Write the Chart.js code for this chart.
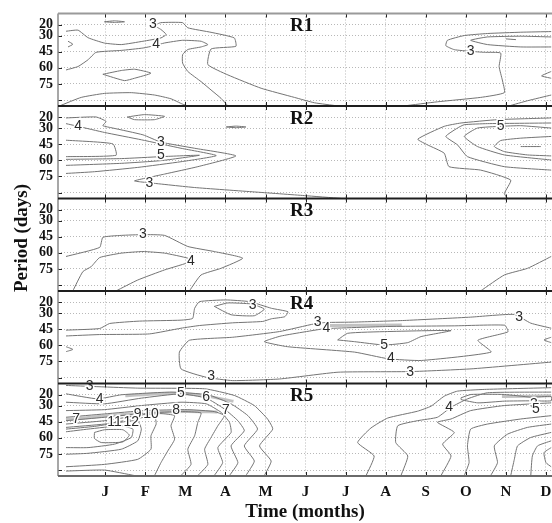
<!DOCTYPE html>
<html>
<head>
<meta charset="utf-8">
<script src="https://cdn.jsdelivr.net/npm/chart.js@4.4.1/dist/chart.umd.min.js"></script>
<style>
  html, body { margin: 0; padding: 0; background: #fff; overflow: hidden; }
</style>
</head>
<body>
<canvas id="chart" width="552" height="523" style="width:552px;height:523px;display:block"></canvas>
<script>
// axis ticks
const monthTicks = [1, 2, 3, 4, 5, 6, 7, 8, 9, 10, 11, 12];
const monthLetters = ['J', 'F', 'M', 'A', 'M', 'J', 'J', 'A', 'S', 'O', 'N', 'D'];
const periodTicks = [20, 30, 45, 60, 75, 90];
const periodLabels = ['20', '30', '45', '60', '75', ''];
const panelNames = ['R1', 'R2', 'R3', 'R4', 'R5'];

// contour lines, points are [month, period in days]
const r1Lines = [
  [[0.02,26],[0.32,25],[0.57,32],[0.98,37],[1.40,38.4],[1.94,35.3],[2.39,32.2],[2.52,29],[2.39,24.4],[2.23,20.6],[2.39,18],[2.93,18],[3.06,22.8],[3.64,27],[4.22,32.2],[4.26,40],[3.64,42.5],[3.56,57],[4.06,66.6],[4.89,79],[5.72,87.5],[6.22,92.5],[6.80,95.4]],
  [[0.02,62],[0.32,58.8],[0.57,52.5],[0.77,45.6],[1.40,43.8],[1.94,41.6],[2.23,39.4],[2.48,36.9],[2.93,34.4],[3.39,35.3],[3.56,38.4],[3.39,40.6],[3.06,43],[2.93,47.8],[2.93,55.6],[3.06,63.4],[3.39,72.8],[3.64,80.6],[3.89,88.4],[4.06,95.4]],
  [[0.98,17.2],[1.23,16.3],[1.48,17.2],[1.23,17.8],[0.98,17.2]],
  [[0.07,35.3],[0.19,38.1],[0.07,40.6]],
  [[0.94,66],[1.40,62.5],[1.73,61.3],[2.14,65],[1.73,69.7],[1.48,71.9],[0.94,66]],
  [[-0.14,95.4],[0.40,87.5],[0.98,83.8],[1.65,83.1],[2.23,85.3],[2.64,88.8],[2.93,93.8],[3.06,95.4]],
  [[8.46,95.4],[9.29,91.6],[10.37,87.5],[10.96,83.1],[10.91,71.3],[10.83,58.8],[10.87,46.3],[10.46,45.6],[10.12,44.7],[9.71,43.1],[9.50,39.4],[9.54,34.4],[9.96,30],[10.54,28.1],[11.37,26.9],[12.13,26.3]],
  [[12.13,31.3],[11.37,30.6],[10.54,31.3],[10.12,34.4],[10.54,38.4],[11.37,40.6],[12.13,40.6]],
  [[11.0,33.1],[11.25,33.8]],
  [[11.08,95.4],[11.54,90.6],[12.13,85.3]],
  [[12.13,63.4],[11.89,67.5],[12.13,69.7]]
];
const r1Labels = [[2.19,19.7,'3'],[2.27,38.4,'4'],[10.12,44.7,'3']];

const r2Lines = [
  [[0.02,20.6],[0.77,19.7],[1.02,23.8],[0.94,27.8],[1.19,30],[1.94,36.3],[2.39,43.1],[3.23,48.8],[4.26,55.9],[3.31,65.9],[2.48,72.8],[1.73,79.1],[2.10,80.9],[3.23,85.3],[4.72,89.4],[5.97,92.8],[6.88,95.4]],
  [[0.02,25.9],[0.32,28.4],[0.98,34.1],[1.90,40.9],[2.89,48.8],[3.77,55.6],[2.89,61.3],[1.81,66.6],[0.73,70.6],[0.02,72.2]],
  [[0.02,41.3],[1.19,44.7],[1.27,55.3],[0.02,56.6]],
  [[0.02,59.1],[1.40,58.4],[2.39,56.6],[3.35,55.3],[2.39,60.3],[1.40,62.8],[0.02,64.7]],
  [[1.55,19.7],[1.98,17.5],[2.48,19.1],[2.23,22.2],[1.73,22.2],[1.55,19.7]],
  [[4.02,29],[4.26,28.2],[4.51,29],[4.26,29.7],[4.02,29]],
  [[12.13,20.6],[10.79,22.2],[9.88,25.3],[9.46,28.4],[8.80,40.3],[9.04,45.6],[9.46,53.4],[9.58,65.9],[10.37,69.1],[11.12,78.4],[10.96,90.9],[11.04,95.4]],
  [[12.13,25.3],[10.54,25.9],[9.96,26.9],[9.79,30],[9.50,37.8],[9.79,45.6],[10.04,56.6],[10.96,65.9],[12.13,69.1]],
  [[12.13,30],[11.37,27.8],[10.87,28.4],[10.29,30],[9.96,37.8],[10.29,47.2],[10.96,55],[12.13,59.7]],
  [[12.13,37.8],[11.37,39.4],[10.87,41.6],[10.71,47.2],[10.96,51.9],[11.54,55],[12.13,55.9]],
  [[11.37,47.2],[11.87,47.2]]
];
const r2Labels = [[0.32,28.4,'4'],[2.39,43.1,'3'],[2.39,55.3,'5'],[2.10,80.9,'3'],[10.87,28.4,'5']];

const r3Lines = [
  [[0.02,63.4],[0.86,55],[0.94,45.6],[1.40,43.8],[1.94,43.1],[2.48,43.8],[3.06,54.1],[3.72,58.8],[4.43,65],[3.89,74.4],[3.39,80.6],[3.10,95.4]],
  [[0.19,95.4],[0.44,77.5],[0.65,72.8],[0.86,64.4],[1.40,60.3],[1.94,58.8],[2.48,60.3],[3.06,65],[3.14,68.1],[2.48,75.9],[1.81,85.3],[1.27,95.4]],
  [[10.37,95.4],[10.96,80.6],[11.54,74.4],[12.13,63.4]]
];
const r3Labels = [[1.94,43.1,'3'],[3.14,68.1,'4']];

const r4Lines = [
  [[0.02,45.9],[0.86,44.4],[1.11,39.7],[1.85,37.5],[2.89,36.6],[3.18,35],[3.23,25.6],[3.35,19.4],[4.01,17.8],[4.60,19.4],[5.15,25.6],[5.56,28.8],[5.48,33.4],[5.15,35.3],[4.93,37.8],[4.18,39.1],[3.35,41.6],[2.89,44.1],[2.10,49.4],[0.86,50],[0.02,51.3]],
  [[12.13,75.6],[10.13,81.9],[8.64,84.4],[6.81,85],[5.35,91.3],[4.18,92.8],[3.52,89.7],[2.89,81.9],[2.85,66.3],[3.10,55.3],[4.18,52.5],[5.35,47.2],[6.22,40],[6.50,38.8],[7.22,38.4],[8.46,36.9],[10.12,33.8],[11.21,31.3],[11.62,39.4],[12.13,44.1]],
  [[3.72,23.8],[4.06,20.6],[4.64,21.6],[4.97,26.3],[4.72,32.5],[4.14,31.6],[3.72,23.8]],
  [[6.48,44.4],[8.05,42.5],[9.71,41.9],[10.97,41.3],[11.05,47.5],[10.30,55.3],[10.63,66.3],[8.89,74.1],[8.06,72.5],[7.22,66.3],[5.55,61.3],[4.97,56.6],[5.39,51.3],[6.48,44.4]],
  [[6.80,55],[7.05,48.8],[8.05,47.2],[9.63,46.3],[8.88,51.9],[8.55,57.5],[7.96,59.7],[7.22,56.6],[6.80,55]],
  [[0.02,61.3],[0.19,63.8],[0.02,65.9]],
  [[12.13,52.5],[11.95,55],[12.13,57.5]]
];
const r4Labels = [[4.68,22.2,'3'],[6.30,38.6,'3'],[6.52,44.2,'4'],[7.96,59.7,'5'],[8.13,72.2,'4'],[3.64,88.8,'3'],[8.61,84.7,'3'],[11.33,33.8,'3']];

const r5Lines = [
  [[0.02,11.3],[1.81,13.8],[3.48,14.4],[4.22,20.6],[4.72,30],[5.05,42.5],[5.18,51.9],[4.85,67.5],[5.14,81.6],[4.97,95.1]],
  [[0.02,19.1],[0.81,23.8],[1.40,20],[2.64,17.5],[3.56,20],[4.14,28.4],[4.56,39.4],[4.80,51.9],[4.47,67.5],[4.72,81.6],[4.51,95.1]],
  [[0.02,26.9],[0.98,28.4],[1.90,23.1],[2.89,19.1],[3.52,23.1],[3.97,33.1],[4.31,44.1],[4.47,53.4],[4.14,67.5],[4.31,83.1],[4.10,95.1]],
  [[0.02,34.7],[0.98,33.8],[1.90,30],[2.89,26.9],[3.52,28.4],[3.89,36.3],[4.10,45.6],[4.14,55],[3.81,69.1],[3.93,83.1],[3.72,95.1]],
  [[0.02,40.9],[0.98,37.8],[1.98,34.7],[3.06,33.8],[3.72,35.6],[3.97,39.4],[3.81,48.8],[3.64,59.7],[3.48,70.6],[3.56,84.7],[3.31,95.1]],
  [[0.02,44.1],[0.98,40.9],[2.06,36.9],[2.89,35.6],[3.39,36.9],[3.31,45.6],[3.23,58.1],[3.06,70.6],[3.14,84.7],[2.89,95.1]],
  [[0.02,47.2],[0.98,44.1],[1.90,38.8],[2.39,37.5],[2.73,39.4],[2.64,48.8],[2.73,61.3],[2.56,72.2],[2.39,83.1],[2.23,95.1]],
  [[0.02,50.3],[0.98,47.2],[1.81,41.9],[2.23,40],[2.27,47.2],[2.14,58.1],[2.14,70.6],[1.81,80],[0.98,84.7],[0.02,86.9]],
  [[0.02,51.9],[0.73,49.4],[1.48,45],[1.81,44.1],[1.90,51.9],[1.81,62.8],[1.40,70.6],[0.57,74.4],[0.02,75.3]],
  [[0.02,54.4],[0.57,51.9],[1.40,48.8],[1.69,51.9],[1.65,59.7],[1.23,65.9],[0.57,69.1],[0.02,69.1]],
  [[0.73,55],[0.98,52.5],[1.44,52.5],[1.60,57.5],[1.44,63.8],[0.90,64.4],[0.73,60.6],[0.73,55]],
  [[0.02,90.9],[0.98,90],[1.73,95.1]],
  [[12.13,13.4],[10.46,15],[9.79,16.6],[9.46,21.3],[9.13,30.6],[8.79,35.3],[8.05,41.6],[7.63,50.9],[7.30,64.4],[7.71,76.9],[7.51,95.1]],
  [[12.13,17.5],[10.54,18.1],[10.04,23.8],[9.63,31.6],[9.29,40.9],[8.79,44.1],[8.30,48.8],[8.25,64.4],[8.55,76.9],[8.38,95.1]],
  [[12.13,27.5],[10.96,30],[10.12,34.7],[9.63,42.5],[9.29,45.6],[9.71,55],[9.42,65.9],[9.63,76.9],[9.38,95.1]],
  [[12.13,39.4],[11.37,42.5],[10.54,47.2],[10.12,51.9],[10.04,67.5],[10.08,83.1],[9.96,95.1]],
  [[12.13,47.2],[11.54,50.3],[11.04,56.6],[10.71,67.5],[10.79,83.1],[10.62,95.1]],
  [[12.13,55],[11.62,59.7],[11.29,67.5],[11.21,80],[11.12,95.1]],
  [[12.13,62.8],[11.79,67.5],[11.66,76.9],[11.62,95.1]],
  [[12.13,69.1],[11.95,73.8],[12.0,83.1],[12.13,86.9]],
  [[9.88,22.8],[10.13,19.7],[10.96,19.7],[11.63,22.2],[12.13,21.6],[12.13,25.6],[11.63,25.6],[10.96,25.9],[10.30,27.5],[9.88,24.4],[9.88,22.8]]
];
const r5Labels = [[0.61,11.9,'3'],[0.86,24.4,'4'],[2.89,18.1,'5'],[3.52,22.2,'6'],[4.01,34.7,'7'],[2.77,34.7,'8'],[1.81,37.8,'9'],[2.14,37.8,'10'],[1.23,45,'11'],[1.65,45.6,'12'],[0.27,42.5,'7'],[9.58,31.6,'4'],[11.70,28.4,'3'],[11.75,33.8,'5']];

// wide grey bands where contours crowd together
const r4Bands = [[[6.6,41.5],[8.4,41]]];
const r5Bands = [
  [[0.02,43],[0.9,40],[2.0,37],[3.0,35.5],[3.8,36]],
  [[1.5,21],[2.7,18.5],[3.5,21],[4.2,26]],
  [[10.9,21.5],[12.13,21]]
];

const panelLines = [r1Lines, r2Lines, r3Lines, r4Lines, r5Lines];
const panelLabels = [r1Labels, r2Labels, r3Labels, r4Labels, r5Labels];
const panelBands = [[], [], [], r4Bands, r5Bands];

const serif = '"Liberation Serif", "Times New Roman", serif';

const datasets = [];
panelLines.forEach((lines, i) => {
  lines.forEach(pts => {
    datasets.push({
      data: pts.map(([x, y]) => ({ x, y })),
      yAxisID: 'y' + (i + 1),
      borderColor: '#747474',
      borderWidth: 1,
      pointRadius: 0,
      tension: 0.15,
      fill: false,
      order: 0
    });
  });
  panelBands[i].forEach(pts => {
    datasets.push({
      data: pts.map(([x, y]) => ({ x, y })),
      yAxisID: 'y' + (i + 1),
      borderColor: '#c2c2c2',
      borderWidth: 3,
      pointRadius: 0,
      tension: 0.2,
      fill: false,
      order: 1
    });
  });
});

const scales = {
  x: {
    type: 'linear',
    min: -0.18,
    max: 12.15,
    afterBuildTicks: s => { s.ticks = monthTicks.map(v => ({ value: v })); },
    afterFit: s => { s.height = 47; s.paddingLeft = 0; s.paddingRight = 0; },
    ticks: {
      autoSkip: false,
      maxRotation: 0,
      padding: 7,
      color: '#111',
      font: { family: serif, size: 15, weight: 'bold' },
      callback: v => monthLetters[monthTicks.indexOf(v)] || ''
    },
    grid: { color: '#b8b8b8', lineWidth: 1, drawTicks: false, borderDash: [1, 2] },
    border: { display: false, dash: [1, 2] },
    title: {
      display: true,
      text: 'Time (months)',
      color: '#111',
      font: { family: serif, size: 19, weight: 'bold' },
      padding: { top: 0, bottom: 0 }
    }
  }
};
panelNames.forEach((name, i) => {
  scales['y' + (i + 1)] = {
    type: 'linear',
    position: 'left',
    stack: 'panels',
    stackWeight: 1,
    weight: 5 - i,
    reverse: true,
    min: 9.5,
    max: 95.5,
    afterBuildTicks: s => { s.ticks = periodTicks.map(v => ({ value: v })); },
    afterFit: s => { s.width = 58; s.paddingTop = 0; s.paddingBottom = 0; },
    ticks: {
      autoSkip: false,
      padding: 5,
      color: '#111',
      font: { family: serif, size: 14, weight: 'bold' },
      callback: v => periodLabels[periodTicks.indexOf(v)] || ''
    },
    grid: { color: '#b8b8b8', lineWidth: 1, drawTicks: false, borderDash: [1, 2] },
    border: { display: false, dash: [1, 2] }
  };
});

function line(ctx, x1, y1, x2, y2) {
  ctx.beginPath();
  ctx.moveTo(x1, y1);
  ctx.lineTo(x2, y2);
  ctx.stroke();
}

const panelDecor = {
  id: 'panelDecor',
  afterDatasetsDraw(chart) {
    const ctx = chart.ctx;
    const xs = chart.scales.x;
    ctx.save();
    ctx.font = '14px "Liberation Sans", Arial, sans-serif';
    ctx.textAlign = 'center';
    ctx.textBaseline = 'middle';
    panelLabels.forEach((labels, i) => {
      const ys = chart.scales['y' + (i + 1)];
      labels.forEach(([m, p, t]) => {
        const x = xs.getPixelForValue(m);
        const y = ys.getPixelForValue(p);
        ctx.lineWidth = 3;
        ctx.strokeStyle = '#fff';
        ctx.strokeText(t, x, y);
        ctx.fillStyle = '#2a2a2a';
        ctx.fillText(t, x, y);
      });
    });
    ctx.restore();
  },
  afterDraw(chart) {
    const ctx = chart.ctx;
    const xs = chart.scales.x;
    const area = chart.chartArea;
    ctx.save();

    // small tick marks inside each panel
    ctx.strokeStyle = '#222';
    ctx.lineWidth = 1;
    panelNames.forEach((name, i) => {
      const ys = chart.scales['y' + (i + 1)];
      monthTicks.forEach(v => {
        const x = Math.round(xs.getPixelForValue(v)) + 0.5;
        line(ctx, x, ys.top, x, ys.top + 4);
        line(ctx, x, ys.bottom - 4, x, ys.bottom);
      });
      periodTicks.forEach(v => {
        const y = Math.round(ys.getPixelForValue(v)) + 0.5;
        line(ctx, area.left, y, area.left + 4, y);
      });
    });

    // frame and panel dividers
    ctx.strokeStyle = '#8a8a8a';
    ctx.lineWidth = 1.5;
    line(ctx, area.left, area.top, area.left, area.bottom);
    ctx.strokeStyle = '#9a9a9a';
    ctx.lineWidth = 2;
    line(ctx, area.left, area.top, area.right, area.top);
    ctx.strokeStyle = '#6a6a6a';
    line(ctx, area.left, area.bottom, area.right, area.bottom);
    ctx.strokeStyle = '#1e1e1e';
    ctx.lineWidth = 2.2;
    for (let i = 2; i <= panelNames.length; i++) {
      const y = chart.scales['y' + i].top;
      line(ctx, area.left, y, area.right, y);
    }

    // panel names
    ctx.fillStyle = '#111';
    ctx.font = 'bold 19px ' + serif;
    ctx.textAlign = 'center';
    ctx.textBaseline = 'middle';
    panelNames.forEach((name, i) => {
      const ys = chart.scales['y' + (i + 1)];
      ctx.fillText(name, xs.getPixelForValue(5.9), ys.top + 13);
    });

    // y title
    ctx.translate(22, 238);
    ctx.rotate(-Math.PI / 2);
    ctx.fillText('Period (days)', 0, 0);
    ctx.restore();
  }
};

new Chart(document.getElementById('chart'), {
  type: 'line',
  data: { datasets },
  options: {
    responsive: false,
    animation: false,
    events: [],
    layout: { padding: { top: 13.5, left: 0, right: 0, bottom: 0 } },
    plugins: { legend: { display: false }, tooltip: { enabled: false } },
    scales
  },
  plugins: [panelDecor]
});
</script>
</body>
</html>
